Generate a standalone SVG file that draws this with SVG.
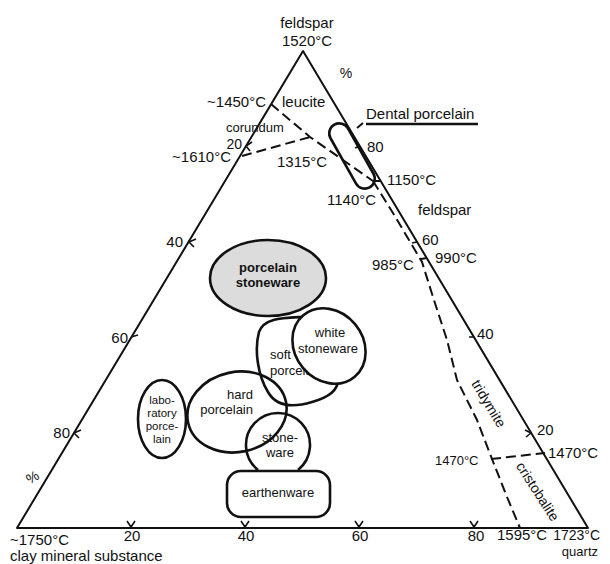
<svg xmlns="http://www.w3.org/2000/svg" width="610" height="564" viewBox="0 0 610 564">
<style>
text{font-family:"Liberation Sans",Arial,sans-serif;fill:#111;font-size:15px}
.sm{font-size:13px}
.xs{font-size:11.5px}
.md{font-size:14px}
.b{font-weight:bold}
.mid{text-anchor:middle}
.end{text-anchor:end}
.ax{fill:none;stroke:#111;stroke-width:2;stroke-linejoin:round}
.tk{fill:none;stroke:#111;stroke-width:1.6}
.node{fill:none;stroke:#111;stroke-width:2.6}
.dash{fill:none;stroke:#111;stroke-width:2;stroke-dasharray:10 5}
.sol{fill:none;stroke:#111;stroke-width:2}
</style>
<rect width="610" height="564" fill="#fff"/>
<g id="axes">
<path class="ax" d="M303,51 L17,528 L588,528 Z"/>
<path class="tk" d="M246,146 l6,-4 M246,146 l4,5 M189,242 l7,-3 M189,242 l5,5 M131,337 l7,-2 M74,433 l7,-3 M74,433 l5,5"/>
<path class="tk" d="M360,146 l-5,2 M417,242 l-5,1 M474,337 l-5,0 M531,433 l-6,-3 M531,433 l-5,4"/>
<path class="tk" d="M127,521 l4,6 l4,-6 M241,521 l4,6 l4,-6 M355,521 l4,6 l4,-6 M470,521 l4,6 l4,-6"/>
</g>
<g id="axis-labels">
<text class="mid" x="307" y="28">feldspar</text>
<text class="mid" x="307" y="46">1520°C</text>
<text class="md mid" x="346" y="78">%</text>
<text class="end" x="266" y="107">~1450°C</text>
<text x="282" y="107">leucite</text>
<text class="sm" x="226" y="132">corundum</text>
<text class="md end" x="242" y="149">20</text>
<text class="end" x="231" y="162">~1610°C</text>
<text x="277" y="167">1315°C</text>
<text x="366" y="119">Dental porcelain</text>
<line x1="366" y1="124" x2="478" y2="124" stroke="#111" stroke-width="2.5"/>
<text x="367" y="152">80</text>
<text x="387" y="185">1150°C</text>
<text x="327" y="205">1140°C</text>
<text x="418" y="215">feldspar</text>
<text x="422" y="245">60</text>
<text x="435" y="263">990°C</text>
<text x="372" y="270">985°C</text>
<text class="end" x="183" y="247">40</text>
<text class="end" x="128" y="343">60</text>
<text x="477" y="339">40</text>
<text class="end" x="70" y="438">80</text>
<text x="537" y="435">20</text>
<text x="548" y="458">1470°C</text>
<text class="sm" x="435" y="465">1470°C</text>
<text class="md mid" x="33" y="482" transform="rotate(-30 33 478)">%</text>
<text class="md" x="488" y="408" text-anchor="middle" transform="rotate(59 488 404)">tridymite</text>
<text class="md" x="537" y="496" text-anchor="middle" transform="rotate(57 537 492)">cristobalite</text>
<text class="mid" x="132" y="541">20</text>
<text class="mid" x="246" y="541">40</text>
<text class="mid" x="360" y="541">60</text>
<text class="mid" x="476" y="541">80</text>
<text x="10" y="545">~1750°C</text>
<text x="10" y="561">clay mineral substance</text>
<text x="497" y="540">1595°C</text>
<text class="md end" x="600" y="540">1723°C</text>
<text class="sm end" x="598" y="556">quartz</text>
</g>
<g id="connectors">
<path class="dash" d="M271,104 L310,137 L373,181"/>
<path class="dash" d="M242,156 L310,137"/>
<path class="dash" d="M373,181 L393,213 L422,262 L433,297 L447,340 L457,380 L477,420 L492,459 L507,497 L520,528"/>
<path class="dash" d="M491,459 L545,453"/>
<path class="sol" d="M373,181 L380,181 M421,259 L427,258"/>
<path class="sol" d="M357,128 L363,123"/>
</g>
<g id="dental-porcelain">
<rect class="node" x="316" y="146" width="72" height="20" rx="10" transform="rotate(60.6 352 156)"/>
</g>
<g id="porcelain-stoneware">
<ellipse cx="268" cy="278" rx="58" ry="38" fill="#dcdcdc" stroke="#111" stroke-width="2.6"/>
<text class="sm b mid" x="268" y="272">porcelain</text>
<text class="sm b mid" x="268" y="287">stoneware</text>
</g>
<g id="soft-porcelain">
<path class="node" d="M302,317 C282,318 264,318 259,332 C254,350 258,376 268,392 C276,406 292,408 312,402 C330,397 338,390 338,380"/>
<text class="sm" x="270" y="359">soft</text>
<text class="sm" x="270" y="375">porcelain</text>
</g>
<g id="white-stoneware">
<ellipse cx="329" cy="346" rx="40" ry="34" transform="rotate(50 329 346)" fill="#fff" stroke="#111" stroke-width="2.6"/>
<text class="sm mid" x="330" y="337">white</text>
<text class="sm mid" x="328" y="353">stoneware</text>
</g>
<g id="hard-porcelain">
<ellipse class="node" cx="237" cy="412" rx="50" ry="40" transform="rotate(-12 237 412)"/>
<text class="sm end" x="253" y="399">hard</text>
<text class="sm end" x="253" y="414">porcelain</text>
</g>
<g id="laboratory-porcelain">
<ellipse class="node" cx="162" cy="419" rx="24" ry="39"/>
<text class="xs mid" x="162" y="404">labo-</text>
<text class="xs mid" x="162" y="417">ratory</text>
<text class="xs mid" x="162" y="430">porce-</text>
<text class="xs mid" x="162" y="443">lain</text>
</g>
<g id="stoneware">
<path class="node" d="M258,470 A32,32 0 1 1 298,470"/>
<text class="sm mid" x="280" y="442">stone-</text>
<text class="sm mid" x="280" y="457">ware</text>
</g>
<g id="earthenware">
<rect class="node" x="227" y="471" width="103" height="46" rx="14"/>
<text class="sm mid" x="278" y="497">earthenware</text>
</g>
</svg>
